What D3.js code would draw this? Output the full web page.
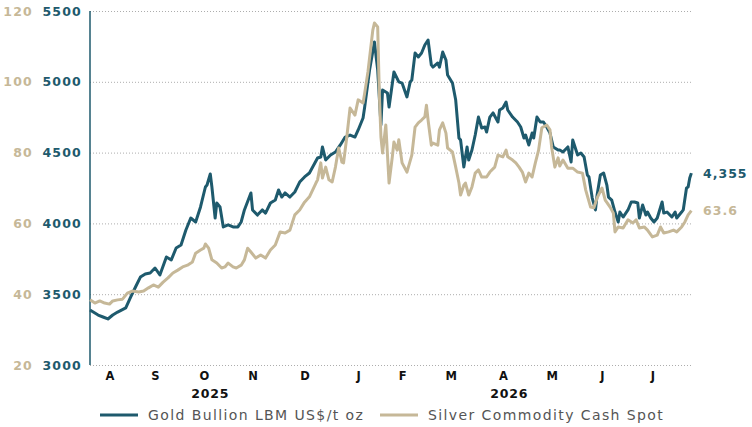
<!DOCTYPE html>
<html lang="en">
<head>
<meta charset="UTF-8" />
<title>Gold and silver</title>
<style>
  body { margin: 0; background: #fff; }
  svg { display: block; }
  .tick text { font-family: "DejaVu Sans", sans-serif; }
</style>
</head>
<body>
<svg id="chart" width="752" height="427"></svg>
<script src="https://d3js.org/d3.v7.min.js"></script>
<script>
// days since 3 Aug 2025
const start = new Date(2025, 7, 3);

const goldDays = [0,5,8,11,14,17,22,25,28,31,34,37,40,43,47,50,53,56,59,62,
  65,68,71,72,74,75,77,78,80,82,85,88,91,93,95,99,100,103,106,108,
  111,114,116,118,120,123,126,129,132,135,137,140,142,143,145,148,151,154,157,160,
  163,165,168,169,172,175,177,179,180,183,184,187,190,192,195,197,198,200,202,204,
  206,208,210,211,214,215,217,219,220,223,225,227,228,230,232,233,235,237,239,241,
  243,244,246,248,251,252,254,256,257,260,263,265,267,268,270,272,273,275,277,279,
  281,283,285,288,289,291,294,296,297,300,302,304,306,307,309,311,312,314,316,318,
  319,321,323,325,326,328,331,333,335,337,338,340,342,343,345,347,349,352,353,355,
  358,360,361,364,365,367,368,369,370];
const goldValues = [3388,3353,3339,3325,3353,3374,3403,3480,3551,3621,3643,3650,3685,3636,3763,3742,3826,3847,3953,4038,
  4010,4116,4257,4271,4349,4257,4038,4144,4116,3975,3989,3975,3975,4010,4095,4215,4095,4059,4095,4073,
  4144,4165,4236,4186,4215,4186,4222,4292,4328,4356,4398,4462,4469,4540,4448,4483,4504,4554,4610,4624,
  4610,4660,4744,4822,5083,5281,5083,4695,4942,4921,4822,5069,4999,4991,4893,4999,5013,5203,5175,5203,
  5260,5295,5119,5104,5133,5104,5210,5154,5048,4991,4871,4603,4589,4398,4540,4448,4518,4624,4751,4674,
  4681,4645,4751,4780,4716,4801,4815,4857,4801,4751,4716,4681,4603,4624,4554,4638,4603,4751,4716,4716,
  4681,4638,4540,4518,4518,4504,4540,4434,4589,4483,4497,4469,4342,4328,4179,4095,4201,4342,4356,4271,
  4186,4165,4080,4010,4080,4045,4095,4151,4151,4144,4038,4130,4059,4080,4038,4010,4038,4151,4073,4080,
  4045,4080,4038,4080,4095,4250,4257,4321,4355];

const silverDays = [0,3,6,9,12,14,17,20,23,26,30,33,36,39,42,45,48,51,54,57,
  60,63,65,68,70,71,73,75,78,81,83,85,88,90,93,95,97,99,102,105,
  108,111,114,117,120,123,126,129,132,135,139,140,142,143,145,147,149,151,153,155,
  156,158,160,163,165,168,169,171,174,175,177,178,179,180,182,184,186,187,189,190,
  192,195,198,200,202,204,206,207,208,210,211,214,215,217,219,220,223,225,227,228,
  230,231,233,235,237,239,241,244,246,249,251,254,256,257,260,262,264,266,268,270,
  272,274,276,278,281,283,284,286,288,289,291,294,297,300,303,305,308,310,312,315,
  317,320,322,323,325,328,329,331,334,336,338,341,343,346,349,351,353,356,359,361,
  364,366,368,370];
const silverValues = [38.4,37.5,38.1,37.5,37.2,38.1,38.4,38.6,40.3,40.9,40.6,40.9,41.8,42.6,42.0,43.4,44.6,46.0,46.8,47.7,
  48.2,49.1,51.6,52.5,53.0,54.2,53.0,49.7,48.8,47.4,47.7,48.8,47.7,47.4,48.2,49.7,53.0,51.9,50.2,51.1,
  50.2,52.5,53.9,57.6,57.3,58.1,62.4,63.8,66.0,67.5,71.4,72.3,77.1,72.8,75.9,72.3,71.7,75.9,81.3,77.3,
  77.1,84.4,92.6,90.6,94.9,94.0,96.8,102.8,114.6,116.6,115.5,96.8,84.4,79.9,87.8,71.4,78.8,83.0,80.7,83.6,
  77.1,74.5,79.3,87.2,88.4,89.2,90.1,93.4,89.2,82.1,82.7,82.1,86.4,88.4,85.5,81.3,80.2,75.9,71.4,68.0,
  70.8,71.4,68.0,70.3,74.2,75.1,73.1,73.1,74.5,75.9,79.3,78.8,80.7,78.8,77.9,77.1,75.9,74.5,71.7,74.2,
  73.1,77.1,80.7,87.0,87.8,86.4,81.6,75.9,78.5,76.2,77.9,75.6,75.6,74.5,74.2,69.4,64.6,64.4,67.2,70.0,
  66.6,64.6,62.9,57.6,59.0,58.7,59.5,61.0,60.1,61.0,58.7,59.0,58.1,56.2,56.7,59.0,57.3,57.6,58.1,57.6,
  59.0,60.4,62.4,63.6];

const goldTicks = [3000, 3500, 4000, 4500, 5000, 5500];
const silverTicks = [20, 40, 60, 80, 100, 120];
// month labels sit in the middle of each month's trading days
const monthLabelDates = ["2025-08-15", "2025-09-12", "2025-10-12", "2025-11-11", "2025-12-13", "2026-01-15",
  "2026-02-11", "2026-03-13", "2026-04-14", "2026-05-14", "2026-06-14", "2026-07-15"];
const years = [{ label: "2025", date: "2025-10-16" }, { label: "2026", date: "2026-04-18" }];
const seriesNames = ["Gold Bullion LBM US$/t oz", "Silver Commodity Cash Spot"];

const goldColor = "#1e5a6d";
const silverColor = "#c6b898";

const svg = d3.select("#chart");
const plotLeft = 90, plotRight = 693, plotTop = 11, plotBottom = 365;
const parse = d3.timeParse("%Y-%m-%d");

const x = d3.scaleTime()
  .domain([start, d3.timeDay.offset(start, 371)])
  .range([plotLeft, plotRight]);
const yGold = d3.scaleLinear().domain([3000, 5500]).range([plotBottom, plotTop]);
const ySilver = d3.scaleLinear().domain([20, 120]).range([plotBottom, plotTop]);

const gold = goldDays.map((d, i) => ({ date: d3.timeDay.offset(start, d), value: goldValues[i] }));
const silver = silverDays.map((d, i) => ({ date: d3.timeDay.offset(start, d), value: silverValues[i] }));

// dotted grid
svg.append("g")
  .attr("transform", `translate(${plotLeft},0)`)
  .call(d3.axisRight(yGold).tickValues(goldTicks).tickSize(plotRight - plotLeft).tickFormat(""))
  .call(g => g.select(".domain").remove())
  .call(g => g.selectAll("line")
    .attr("stroke", "#adadad")
    .attr("stroke-width", 1)
    .attr("stroke-dasharray", "1,2"));

// gold labels
svg.append("g")
  .attr("transform", "translate(82,0)")
  .call(d3.axisLeft(yGold).tickValues(goldTicks).tickSize(0).tickPadding(0).tickFormat(d3.format("d")))
  .call(g => g.select(".domain").remove())
  .call(g => g.selectAll("text")
    .attr("fill", goldColor)
    .attr("font-size", 12.5)
    .attr("font-weight", "bold")
    .attr("letter-spacing", "1.2px"));

// silver labels
svg.append("g")
  .attr("transform", "translate(33,0)")
  .call(d3.axisLeft(ySilver).tickValues(silverTicks).tickSize(0).tickPadding(0))
  .call(g => g.select(".domain").remove())
  .call(g => g.selectAll("text")
    .attr("fill", silverColor)
    .attr("font-size", 12.5)
    .attr("font-weight", "bold")
    .attr("letter-spacing", "1.2px"));

// vertical axis line
svg.append("line")
  .attr("x1", plotLeft).attr("x2", plotLeft)
  .attr("y1", yGold(5500)).attr("y2", yGold(3000))
  .attr("stroke", goldColor)
  .attr("stroke-width", 1.5);

// months
svg.append("g")
  .attr("transform", `translate(0,${plotBottom})`)
  .call(d3.axisBottom(x)
    .tickValues(monthLabelDates.map(parse))
    .tickSize(0).tickPadding(7)
    .tickFormat(d => d3.timeFormat("%B")(d)[0]))
  .call(g => g.select(".domain").remove())
  .call(g => g.selectAll("text")
    .attr("fill", "#111")
    .attr("font-size", 11.5)
    .attr("font-weight", "bold"));

svg.append("g").selectAll("text")
  .data(years)
  .join("text")
  .attr("x", d => x(parse(d.date)))
  .attr("y", 398)
  .attr("text-anchor", "middle")
  .attr("font-family", "DejaVu Sans, sans-serif")
  .attr("font-size", 12.5)
  .attr("font-weight", "bold")
  .attr("letter-spacing", "0.8px")
  .attr("fill", "#111")
  .text(d => d.label);

// lines
const line = yScale => d3.line()
  .x(d => x(d.date))
  .y(d => yScale(d.value));

svg.append("path")
  .datum(gold)
  .attr("fill", "none")
  .attr("stroke", goldColor)
  .attr("stroke-width", 3)
  .attr("stroke-linejoin", "round")
  .attr("d", line(yGold));

svg.append("path")
  .datum(silver)
  .attr("fill", "none")
  .attr("stroke", silverColor)
  .attr("stroke-width", 3)
  .attr("stroke-linejoin", "round")
  .attr("d", line(ySilver));

// end labels
const lastGold = gold[gold.length - 1];
const lastSilver = silver[silver.length - 1];
svg.append("text")
  .attr("x", 703)
  .attr("y", yGold(lastGold.value))
  .attr("dy", "0.36em")
  .attr("font-family", "DejaVu Sans, sans-serif")
  .attr("font-size", 12.5)
  .attr("font-weight", "bold")
  .attr("letter-spacing", "1px")
  .attr("fill", goldColor)
  .text(d3.format(",")(lastGold.value));
svg.append("text")
  .attr("x", 703)
  .attr("y", ySilver(lastSilver.value))
  .attr("dy", "0.36em")
  .attr("font-family", "DejaVu Sans, sans-serif")
  .attr("font-size", 12.5)
  .attr("font-weight", "bold")
  .attr("letter-spacing", "1px")
  .attr("fill", silverColor)
  .text(d3.format(".1f")(lastSilver.value));

// legend
const legend = svg.append("g").attr("transform", "translate(0,415)");
const legendX = [100, 380];
seriesNames.forEach((name, i) => {
  const g = legend.append("g").attr("transform", `translate(${legendX[i]},0)`);
  g.append("line")
    .attr("x1", 0).attr("x2", 38)
    .attr("stroke", i === 0 ? goldColor : silverColor)
    .attr("stroke-width", 3);
  g.append("text")
    .attr("x", 48)
    .attr("dy", "0.36em")
    .attr("font-family", "DejaVu Sans, sans-serif")
    .attr("font-size", 14)
    .attr("letter-spacing", "1.4px")
    .attr("fill", "#555")
    .text(name);
});
</script>
</body>
</html>
